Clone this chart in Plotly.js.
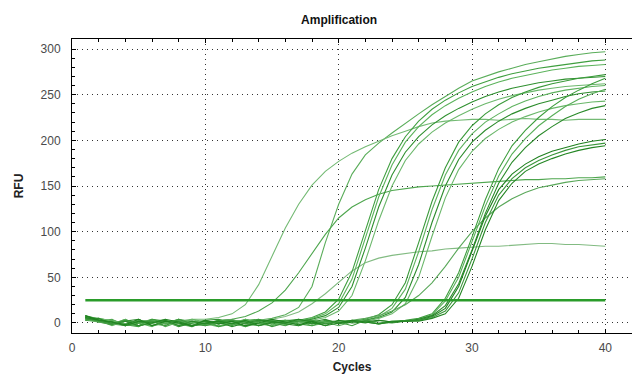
<!DOCTYPE html>
<html>
<head>
<meta charset="utf-8">
<script src="https://cdn.plot.ly/plotly-3.0.1.min.js"></script>
<style>
html,body{margin:0;padding:0;background:#fff;}
#chart{width:633px;height:381px;}
</style>
</head>
<body>
<div id="chart"></div>
<script>
// ---- data ----
var cycles = [1,2,3,4,5,6,7,8,9,10,11,12,13,14,15,16,17,18,19,20,21,22,23,24,25,26,27,28,29,30,31,32,33,34,35,36,37,38,39,40];
var threshold = 25;

var wellC = [7,5,2,-2,4,-3,2,-1,-4,3,-1,3,1,3,5,9,17,40,88,130,163,184,197,208,219,229,239,248,257,265,270,275,279,283,286,289,292,294,296,297];
var wellA = [8,3,-2,2,-3,4,-1,2,4,4,6,10,20,42,73,104,130,151,166,177,186,193,199,205,210,215,219,221,222,223,223,222,223,224,223,223,222,223,223,223];
var wellB = [5,2,4,-3,0,3,-4,1,2,-2,3,4,7,13,22,36,55,76,97,115,127,135,141,145,147,149,150,151,152,153,154,155,156,157,157,158,158,159,159,160];
var wellD = [6,3,-2,2,-3,1,4,-3,2,-1,3,0,4,2,4,7,12,21,32,45,57,66,71,74,76,78,79,81,82,83,84,84,85,86,87,87,86,86,85,84];
var wellG1a = [8,4,1,-2,-4,3,-1,4,-3,0,2,-3,4,-1,1,3,3,6,12,26,56,101,146,180,204,221,234,244,252,259,264,269,273,276,279,281,283,285,287,288];
var wellG1b = [5,3,-3,2,0,-4,3,-1,4,1,-3,0,2,4,-2,1,2,5,10,21,48,92,138,173,198,215,228,238,246,253,259,264,268,271,274,277,279,281,282,283];
var wellG1c = [6,1,-2,4,-3,0,2,-4,0,3,4,-1,-3,2,3,0,2,4,8,17,40,82,127,162,187,204,217,227,235,242,248,253,257,260,263,265,267,268,269,270];
var wellG1d = [3,5,2,-3,2,-1,-3,4,1,-1,-4,2,0,3,1,-2,1,3,6,13,30,68,112,150,178,196,209,219,227,234,240,245,249,252,255,257,259,260,261,262];
var wellG2a = [7,3,1,-3,0,4,2,-3,0,2,-4,-1,2,4,0,-3,2,-1,3,1,2,4,9,20,44,88,133,170,198,216,229,239,247,253,258,262,265,268,270,272];
var wellG2b = [4,2,-1,4,-3,0,2,3,-3,-1,2,-2,4,0,1,3,-3,2,0,3,1,3,7,16,37,78,124,162,189,207,220,229,237,243,248,252,255,257,259,260];
var wellG2c = [8,3,-1,2,4,-3,0,2,-4,2,-1,3,1,-3,0,2,4,-1,1,0,2,3,6,12,28,64,110,150,179,198,211,221,229,235,240,244,248,251,253,254];
var wellG2d = [3,1,3,-1,-3,2,0,-3,4,-1,1,0,-4,2,3,-1,2,-3,0,1,2,2,5,10,21,50,95,137,168,188,202,212,220,226,231,235,238,240,242,243];
var wellE = [5,1,-1,-3,3,2,-1,3,-3,0,2,4,-1,-3,2,0,3,1,-1,2,3,5,8,13,20,30,44,62,82,100,115,127,136,143,148,151,154,156,157,158];
var wellG3a = [6,3,1,-1,-3,4,0,2,-3,-1,3,2,-4,0,2,3,-1,-3,2,0,3,1,-1,2,3,5,10,27,55,94,135,169,194,211,225,237,247,255,262,268];
var wellG3b = [4,1,3,-1,2,-3,0,4,1,-3,0,2,3,-1,-3,2,0,3,1,-3,1,3,-1,1,2,4,9,24,50,88,128,161,185,202,216,227,237,245,251,256];
var wellG3c = [3,5,-1,2,-3,0,3,-3,2,-1,1,-4,0,3,2,-1,-3,1,4,-1,2,0,3,1,2,4,8,19,43,80,120,153,176,192,205,215,224,230,235,238];
var wellG3d = [8,3,1,-2,4,-3,2,0,-3,3,-1,2,-3,0,4,1,-2,2,-3,3,0,1,3,1,2,3,7,16,40,78,117,146,163,174,182,188,192,196,199,201];
var wellG3e = [5,2,-1,3,0,2,-3,4,-1,-3,1,3,-1,2,-4,0,2,3,-1,1,-3,3,1,0,2,3,6,13,33,70,110,140,158,170,178,184,189,193,195,197];
var wellG3f = [6,3,1,-3,2,0,4,1,-3,0,2,-1,3,-3,1,0,4,1,-3,0,3,1,-1,1,2,2,5,10,27,62,102,134,153,166,174,180,185,189,192,194];

var wells = [wellC, wellA, wellB, wellD, wellG1a, wellG1b, wellG1c, wellG1d,
             wellG2a, wellG2b, wellG2c, wellG2d, wellE,
             wellG3a, wellG3b, wellG3c, wellG3d, wellG3e, wellG3f];

// ---- style ----
var greens = ['#5aad5a','#74ba74','#4ea64e','#82bb82','#3f9f3f','#5cb35c','#2f902f','#6cb86c',
              '#3a9a3a','#5fb25f','#2c8c2c','#6ab76a','#5aa85a','#3d9d3d','#58ae58','#2a8a2a','#1f801f','#3a963a','#238623'];

var traces = wells.map(function (w, i) {
  return {
    x: cycles, y: w, type: 'scatter', mode: 'lines',
    line: {color: greens[i % greens.length], width: 1.1},
    hoverinfo: 'skip', showlegend: false
  };
});

traces.push({
  x: [cycles[0], cycles[cycles.length - 1]], y: [threshold, threshold],
  type: 'scatter', mode: 'lines',
  line: {color: '#2a9c2a', width: 2.5},
  hoverinfo: 'skip', showlegend: false, name: 'Threshold'
});

var tickFont = {family: 'Liberation Sans, Arial, sans-serif', size: 12, color: '#4a4a4a'};
var titleFont = {family: 'Liberation Sans, Arial, sans-serif', size: 12, color: '#222', weight: 'bold'};

var layout = {
  width: 633, height: 381,
  margin: {l: 72, r: 1, t: 39, b: 48},
  paper_bgcolor: '#fff', plot_bgcolor: '#fff',
  title: {text: '<b>Amplification</b>', font: {family: 'Liberation Sans, Arial, sans-serif', size: 12, color: '#111'},
          x: 0.477, xref: 'paper', xanchor: 'center', y: 0.947, yref: 'container', yanchor: 'middle'},
  xaxis: {
    range: [0, 42], tick0: 0, dtick: 10,
    ticks: 'inside', ticklen: 4, tickcolor: '#000', tickwidth: 1,
    showline: true, linecolor: '#000', linewidth: 1, mirror: 'allticks',
    showgrid: true, gridcolor: '#333', griddash: '1px,4px', gridwidth: 1,
    zeroline: false, tickfont: tickFont, ticklabelstandoff: 4,
    minor: {dtick: 2, ticks: 'inside', ticklen: 3, tickcolor: '#000', showgrid: false},
    title: {text: '<b>Cycles</b>', font: titleFont, standoff: 8}
  },
  yaxis: {
    range: [-11, 311], tick0: 0, dtick: 50,
    ticks: 'inside', ticklen: 4, tickcolor: '#000', tickwidth: 1,
    showline: true, linecolor: '#000', linewidth: 1, mirror: false,
    showgrid: true, gridcolor: '#333', griddash: '1px,4px', gridwidth: 1,
    zeroline: false, tickfont: tickFont, ticklabelstandoff: 8,
    minor: {dtick: 10, ticks: 'inside', ticklen: 3, tickcolor: '#000', showgrid: false},
    title: {text: '<b>RFU</b>', font: titleFont, standoff: 14}
  },
  xaxis2: {
    overlaying: 'x', anchor: 'y', side: 'bottom', range: [0, 42], tick0: 0, dtick: 10,
    ticks: 'outside', ticklen: 4, tickcolor: '#000', showticklabels: false,
    showgrid: false, zeroline: false, showline: false,
    minor: {dtick: 2, ticks: 'outside', ticklen: 2, tickcolor: '#000', showgrid: false}
  },
  yaxis2: {
    overlaying: 'y', anchor: 'x', side: 'left', range: [-11, 311], tick0: 0, dtick: 50,
    ticks: 'outside', ticklen: 4, tickcolor: '#000', showticklabels: false,
    showgrid: false, zeroline: false, showline: false,
    minor: {dtick: 10, ticks: 'outside', ticklen: 2, tickcolor: '#000', showgrid: false}
  }
};

Plotly.newPlot('chart', traces, layout, {staticPlot: true, displayModeBar: false});
</script>
</body>
</html>
